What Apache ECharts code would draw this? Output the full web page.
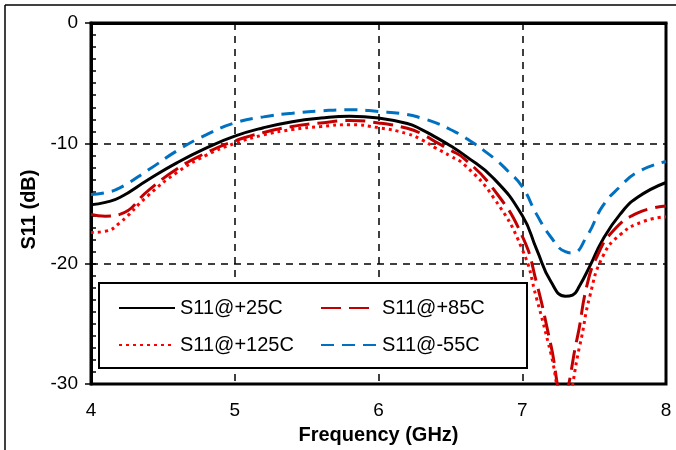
<!DOCTYPE html>
<html>
<head>
<meta charset="utf-8">
<script src="https://cdn.jsdelivr.net/npm/echarts@6/dist/echarts.min.js"></script>
<style>
html,body{margin:0;padding:0;background:#fff;}
#c{width:676px;height:450px;}
</style>
</head>
<body>
<div id="c"></div>
<script>
// ---- data ----
var seriesNames = ['S11@+25C', 'S11@+85C', 'S11@+125C', 'S11@-55C'];
var xTicks = [4, 5, 6, 7, 8];
var yTicks = [-30, -20, -10, 0];

var freq25 = [4.0,4.1,4.2,4.4,4.6,4.8,5.0,5.2,5.4,5.6,5.8,6.0,6.2,6.3,6.4,6.5,6.6,6.8,7.0,7.1,7.2,7.3,7.35,7.4,7.47,7.56,7.68,7.8,8.0];
var s25    = [-15.1,-14.9,-14.5,-13.0,-11.6,-10.4,-9.4,-8.7,-8.2,-7.9,-7.75,-7.9,-8.35,-8.85,-9.5,-10.2,-11.0,-12.9,-16.0,-18.8,-21.5,-22.7,-22.6,-21.8,-20.2,-18.0,-15.9,-14.5,-13.25];

var freq85 = [4.0,4.1,4.2,4.4,4.6,4.8,5.0,5.2,5.4,5.6,5.8,6.0,6.2,6.3,6.4,6.5,6.6,6.8,7.0,7.1,7.2,7.28,7.38,7.45,7.52,7.63,7.8,8.0];
var s85    = [-15.9,-16.05,-15.9,-13.9,-12.1,-10.8,-9.8,-9.1,-8.6,-8.3,-8.1,-8.3,-8.75,-9.2,-9.9,-10.55,-11.3,-13.8,-17.7,-21.6,-26.8,-31.0,-26.3,-21.8,-19.4,-17.3,-15.8,-15.2];

var freq125 = [4.0,4.1,4.2,4.4,4.6,4.8,5.0,5.2,5.4,5.6,5.8,6.0,6.2,6.3,6.4,6.5,6.6,6.8,7.0,7.1,7.2,7.29,7.4,7.47,7.56,7.68,7.84,8.0];
var s125    = [-17.4,-17.3,-16.6,-14.3,-12.4,-11.0,-10.0,-9.3,-8.85,-8.6,-8.45,-8.7,-9.2,-9.7,-10.4,-11.05,-11.8,-14.5,-18.8,-22.9,-27.5,-32.0,-26.8,-22.7,-19.4,-17.6,-16.5,-16.1];

var freqM55 = [4.0,4.1,4.2,4.4,4.6,4.8,5.0,5.2,5.4,5.6,5.8,6.0,6.2,6.3,6.4,6.5,6.6,6.8,6.9,7.0,7.1,7.2,7.3,7.35,7.45,7.56,7.68,7.8,8.0];
var sM55    = [-14.25,-14.1,-13.7,-12.2,-10.6,-9.3,-8.3,-7.8,-7.5,-7.3,-7.2,-7.35,-7.6,-7.9,-8.3,-8.85,-9.5,-11.2,-12.3,-13.6,-15.9,-17.8,-19.0,-19.1,-17.7,-15.2,-13.6,-12.4,-11.5];

function pairs(xs, ys){ return xs.map(function(x,i){ return [x, ys[i]]; }); }

var font = '"Liberation Sans", Arial, sans-serif';
var chart = echarts.init(document.getElementById('c'), null, {renderer:'canvas'});

var gridL = 91, gridT = 23, gridW = 575, gridH = 362;

function lineSeries(name, data, color, type, width){
  return {
    name: name, type: 'line', data: data, smooth: 0.5,
    symbol: 'none', showSymbol: false, clip: true, yAxisIndex: 0,
    lineStyle: {color: color, width: width, type: type, cap: 'butt'},
    itemStyle: {color: color},
    z: 3
  };
}

var legendText = {fontFamily: font, fontSize: 20, color: '#000'};
var legendCommon = {
  orient: 'vertical', top: 293, itemWidth: 56, itemHeight: 14, itemGap: 17, z: 10,
  textStyle: legendText, selectedMode: false,
  itemStyle: {opacity: 0, borderWidth: 0}
};

chart.setOption({
  animation: false,
  backgroundColor: '#fff',
  grid: {left: gridL, top: gridT, width: gridW, height: gridH, show: true,
         borderColor: '#000', borderWidth: 3, backgroundColor: 'transparent'},
  xAxis: {
    type: 'value', min: xTicks[0], max: xTicks[xTicks.length-1], interval: 1,
    name: 'Frequency (GHz)', nameLocation: 'middle', nameGap: 40,
    nameTextStyle: {fontFamily: font, fontSize: 20, fontWeight: 'bold', color: '#000'},
    axisLine: {show: true, lineStyle: {color: '#000', width: 3}},
    axisTick: {show: false},
    axisLabel: {fontFamily: font, fontSize: 19, color: '#000', margin: 17},
    splitLine: {show: true, lineStyle: {color: '#000', width: 1.5, type: [7, 6]}}
  },
  yAxis: [{
    type: 'value', min: yTicks[0], max: yTicks[yTicks.length-1], interval: 10,
    name: 'S11 (dB)', nameLocation: 'middle', nameGap: 52,
    nameTextStyle: {fontFamily: font, fontSize: 20, fontWeight: 'bold', color: '#000', padding: [0, 12, 0, 0]},
    axisLine: {show: true, lineStyle: {color: '#000', width: 3}},
    axisTick: {show: true, inside: false, length: 6, lineStyle: {color: '#000', width: 1.5}},
    axisLabel: {fontFamily: font, fontSize: 19, color: '#000', margin: 13},
    splitLine: {show: true, lineStyle: {color: '#000', width: 1.5, type: [7, 6]}}
  }, {
    type: 'value', min: yTicks[0], max: yTicks[yTicks.length-1], interval: 1,
    position: 'left',
    axisLine: {show: false},
    axisTick: {show: true, inside: true, length: 5, lineStyle: {color: '#000', width: 1.5}},
    axisLabel: {show: false},
    splitLine: {show: false}
  }],
  legend: [
    Object.assign({}, legendCommon, {data: [seriesNames[0], seriesNames[2]], left: 113}),
    Object.assign({}, legendCommon, {data: [seriesNames[1], seriesNames[3]], left: 315})
  ],
  graphic: [
    {type: 'rect', shape: {x: 99, y: 283, width: 428, height: 85},
     style: {fill: '#fff', stroke: '#000', lineWidth: 2}, z: 2, silent: true},
    {type: 'line', shape: {x1: 5, y1: 5, x2: 676, y2: 5}, style: {stroke: '#000', lineWidth: 1.5}, silent: true},
    {type: 'line', shape: {x1: 5, y1: 5, x2: 5, y2: 450}, style: {stroke: '#000', lineWidth: 1.5}, silent: true}
  ],
  series: [
    lineSeries(seriesNames[0], pairs(freq25, s25), '#000000', 'solid', 3),
    lineSeries(seriesNames[1], pairs(freq85, s85), '#C00000', [20, 8], 3),
    lineSeries(seriesNames[2], pairs(freq125, s125), '#FF0000', [3, 4], 3),
    lineSeries(seriesNames[3], pairs(freqM55, sM55), '#0070C0', [13, 8], 3)
  ]
});
</script>
</body>
</html>
